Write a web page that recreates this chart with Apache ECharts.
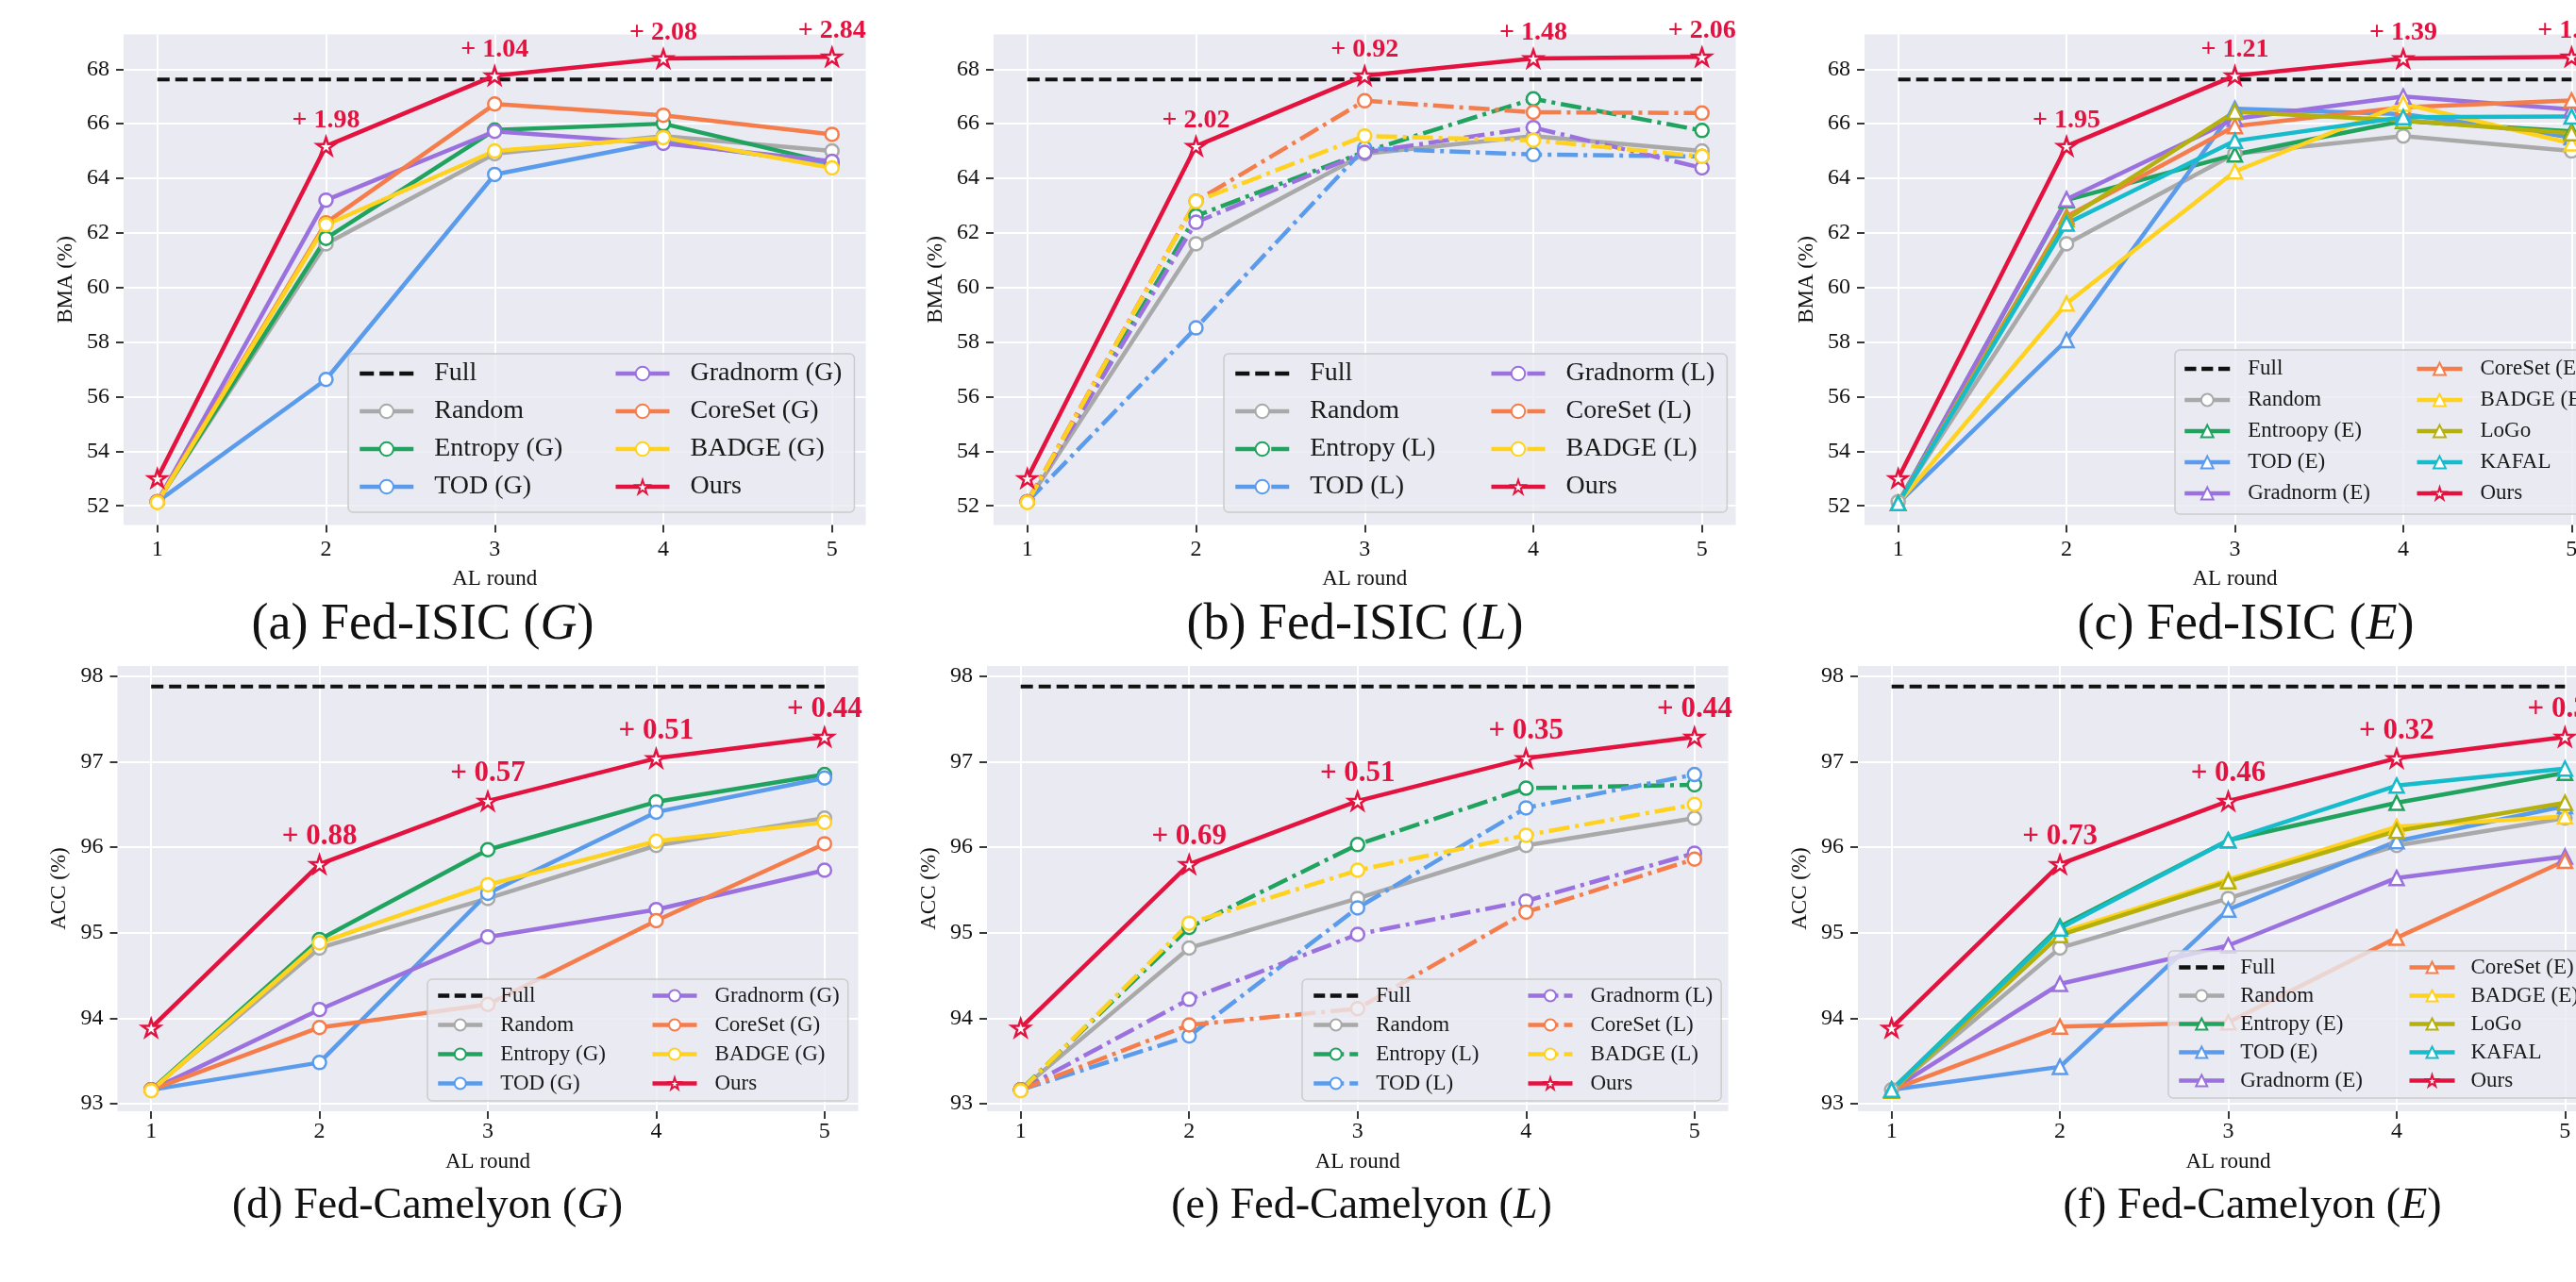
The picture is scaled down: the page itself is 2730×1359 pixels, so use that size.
<!DOCTYPE html>
<html>
<head>
<meta charset="utf-8">
<title>AL round results</title>
<script src="https://cdn.jsdelivr.net/npm/echarts@6.0.0/dist/echarts.min.js"></script>
<style>
html, body { margin: 0; padding: 0; background: #fff; }
#main { width: 2730px; height: 1359px; }
</style>
</head>
<body>
<div id="main"></div>
<script>
var rounds = [1, 2, 3, 4, 5];
var isicTicks = [52, 54, 56, 58, 60, 62, 64, 66, 68];
var camTicks = [93, 94, 95, 96, 97, 98];

var isicFull = [67.62, 67.62, 67.62, 67.62, 67.62];
var camFull = [97.88, 97.88, 97.88, 97.88, 97.88];

// Fed-ISIC, BMA (%)
var isicOurs = [53.01, 65.18, 67.76, 68.39, 68.45];
var isicRandom = [52.15, 61.6, 64.9, 65.55, 65.0];
var isicEntropyG = [52.15, 61.8, 65.77, 66.0, 64.55];
var isicTodG = [52.15, 56.63, 64.14, 65.35, 64.5];
var isicGradnormG = [52.15, 63.2, 65.72, 65.28, 64.62];
var isicCoresetG = [52.15, 62.37, 66.72, 66.31, 65.61];
var isicBadgeG = [52.12, 62.3, 65.0, 65.49, 64.38];
var isicEntropyL = [52.15, 62.62, 64.97, 66.91, 65.75];
var isicTodL = [52.15, 58.52, 65.1, 64.87, 64.8];
var isicGradnormL = [52.15, 62.39, 64.95, 65.86, 64.38];
var isicCoresetL = [52.15, 63.16, 66.84, 66.42, 66.39];
var isicBadgeL = [52.12, 63.15, 65.55, 65.39, 64.8];
var isicEntropyE = [52.1, 63.2, 64.87, 66.1, 65.72];
var isicTodE = [52.1, 58.07, 66.55, 66.35, 65.5];
var isicGradnormE = [52.1, 63.23, 66.18, 67.0, 66.52];
var isicCoresetE = [52.1, 62.6, 65.91, 66.6, 66.85];
var isicBadgeE = [52.1, 59.41, 64.25, 66.73, 65.28];
var isicLogo = [52.1, 62.5, 66.44, 66.12, 65.65];
var isicKafal = [52.1, 62.34, 65.37, 66.24, 66.26];

// Fed-Camelyon, ACC (%)
var camOurs = [93.885, 95.8, 96.54, 97.04, 97.29];
var camRandom = [93.16, 94.82, 95.4, 96.02, 96.34];
var camEntropyG = [93.16, 94.92, 95.97, 96.53, 96.85];
var camTodG = [93.16, 93.48, 95.46, 96.41, 96.81];
var camGradnormG = [93.16, 94.1, 94.95, 95.27, 95.73];
var camCoresetG = [93.16, 93.89, 94.16, 95.14, 96.04];
var camBadgeG = [93.15, 94.88, 95.56, 96.07, 96.29];
var camEntropyL = [93.16, 95.06, 96.03, 96.69, 96.73];
var camTodL = [93.16, 93.79, 95.29, 96.46, 96.85];
var camGradnormL = [93.16, 94.22, 94.98, 95.37, 95.93];
var camCoresetL = [93.16, 93.92, 94.11, 95.24, 95.86];
var camBadgeL = [93.15, 95.11, 95.73, 96.14, 96.5];
var camEntropyE = [93.16, 95.07, 96.08, 96.52, 96.87];
var camTodE = [93.16, 93.43, 95.27, 96.07, 96.48];
var camGradnormE = [93.16, 94.4, 94.85, 95.64, 95.89];
var camCoresetE = [93.16, 93.9, 93.95, 94.94, 95.84];
var camBadgeE = [93.15, 95.0, 95.62, 96.24, 96.36];
var camLogo = [93.15, 94.97, 95.6, 96.19, 96.52];
var camKafal = [93.16, 95.05, 96.08, 96.72, 96.92];

// gain of Ours over the best baseline, written above the stars
var gainA = ['', '+ 1.98', '+ 1.04', '+ 2.08', '+ 2.84'];
var gainB = ['', '+ 2.02', '+ 0.92', '+ 1.48', '+ 2.06'];
var gainC = ['', '+ 1.95', '+ 1.21', '+ 1.39', '+ 1.60'];
var gainD = ['', '+ 0.88', '+ 0.57', '+ 0.51', '+ 0.44'];
var gainE = ['', '+ 0.69', '+ 0.51', '+ 0.35', '+ 0.44'];
var gainF = ['', '+ 0.73', '+ 0.46', '+ 0.32', '+ 0.37'];

var captionNames = ['(a) Fed-ISIC', '(b) Fed-ISIC', '(c) Fed-ISIC', '(d) Fed-Camelyon', '(e) Fed-Camelyon', '(f) Fed-Camelyon'];
var captionLetters = ['G', 'L', 'E', 'G', 'L', 'E'];

var serif = "'Liberation Serif', 'Times New Roman', serif";
var colors = {
    Random: '#A9A9A9', Entropy: '#1FA35F', TOD: '#5B9BEB', Gradnorm: '#9A71DE',
    CoreSet: '#F57D4C', BADGE: '#FFD21F', LoGo: '#B5B00B', KAFAL: '#16BCCB', Ours: '#E3123F'
};
var STAR = 'path://M50,0L61.23,34.55L97.55,34.55L68.17,55.9L79.39,90.45L50,69.1L20.61,90.45L31.83,55.9L2.45,34.55L38.77,34.55Z';
var DASH_BIG = 'path://M0,0h15v4.5h-15zM21,0h15v4.5h-15zM42,0h15v4.5h-15z';
var DASH_SMALL = 'path://M0,0h12v4.5h-12zM17.5,0h12v4.5h-12zM35,0h12v4.5h-12z';
var DASHDOT = [22, 6, 4, 6];
var LW = 4.5;

var panels = [
    {
        grid: {left: 131, top: 36.5, width: 786.5, height: 520}, yMin: 51.3, yMax: 69.27,
        ticks: isicTicks, yName: 'BMA (%)', full: isicFull, ours: isicOurs, gains: gainA, gainSize: 28,
        lines: [
            ['Random', isicRandom, 'Random', 'circle', 'solid'],
            ['Entropy (G)', isicEntropyG, 'Entropy', 'circle', 'solid'],
            ['TOD (G)', isicTodG, 'TOD', 'circle', 'solid'],
            ['Gradnorm (G)', isicGradnormG, 'Gradnorm', 'circle', 'solid'],
            ['CoreSet (G)', isicCoresetG, 'CoreSet', 'circle', 'solid'],
            ['BADGE (G)', isicBadgeG, 'BADGE', 'circle', 'solid']
        ],
        legend: {left: 369, top: 375, padding: [6, 13, 12, 10], font: 28, lh: 30, gap: 10, iw: 57, ih: 18, tpad: 17, colW: 180, rows: 4, icon: DASH_BIG}
    },
    {
        grid: {left: 1053, top: 36.5, width: 786.5, height: 520}, yMin: 51.3, yMax: 69.27,
        ticks: isicTicks, yName: 'BMA (%)', full: isicFull, ours: isicOurs, gains: gainB, gainSize: 28,
        lines: [
            ['Random', isicRandom, 'Random', 'circle', 'solid'],
            ['Entropy (L)', isicEntropyL, 'Entropy', 'circle', DASHDOT],
            ['TOD (L)', isicTodL, 'TOD', 'circle', DASHDOT],
            ['Gradnorm (L)', isicGradnormL, 'Gradnorm', 'circle', DASHDOT],
            ['CoreSet (L)', isicCoresetL, 'CoreSet', 'circle', DASHDOT],
            ['BADGE (L)', isicBadgeL, 'BADGE', 'circle', DASHDOT]
        ],
        legend: {left: 1297, top: 375, padding: [6, 13, 12, 10], font: 28, lh: 30, gap: 10, iw: 57, ih: 18, tpad: 17, colW: 180, rows: 4, icon: DASH_BIG}
    },
    {
        grid: {left: 1976, top: 36.5, width: 785, height: 520}, yMin: 51.3, yMax: 69.27,
        ticks: isicTicks, yName: 'BMA (%)', full: isicFull, ours: isicOurs, gains: gainC, gainSize: 28,
        lines: [
            ['Random', isicRandom, 'Random', 'circle', 'solid'],
            ['Entroopy (E)', isicEntropyE, 'Entropy', 'triangle', 'solid'],
            ['TOD (E)', isicTodE, 'TOD', 'triangle', 'solid'],
            ['Gradnorm (E)', isicGradnormE, 'Gradnorm', 'triangle', 'solid'],
            ['CoreSet (E)', isicCoresetE, 'CoreSet', 'triangle', 'solid'],
            ['BADGE (E)', isicBadgeE, 'BADGE', 'triangle', 'solid'],
            ['LoGo', isicLogo, 'LoGo', 'triangle', 'solid'],
            ['KAFAL', isicKafal, 'KAFAL', 'triangle', 'solid']
        ],
        legend: {left: 2305, top: 371, padding: [7, 8, 9, 8], font: 23, lh: 26, gap: 7, iw: 48, ih: 16, tpad: 14, colW: 170, rows: 5, icon: DASH_SMALL}
    },
    {
        grid: {left: 124.5, top: 706, width: 785, height: 472}, yMin: 92.91, yMax: 98.12,
        ticks: camTicks, yName: 'ACC (%)', full: camFull, ours: camOurs, gains: gainD, gainSize: 31,
        lines: [
            ['Random', camRandom, 'Random', 'circle', 'solid'],
            ['Entropy (G)', camEntropyG, 'Entropy', 'circle', 'solid'],
            ['TOD (G)', camTodG, 'TOD', 'circle', 'solid'],
            ['Gradnorm (G)', camGradnormG, 'Gradnorm', 'circle', 'solid'],
            ['CoreSet (G)', camCoresetG, 'CoreSet', 'circle', 'solid'],
            ['BADGE (G)', camBadgeG, 'BADGE', 'circle', 'solid']
        ],
        legend: {left: 453, top: 1038, padding: [5, 9, 6, 9], font: 23, lh: 25, gap: 6, iw: 47, ih: 15, tpad: 14, colW: 153, rows: 4, icon: DASH_SMALL}
    },
    {
        grid: {left: 1046, top: 706, width: 785.5, height: 472}, yMin: 92.91, yMax: 98.12,
        ticks: camTicks, yName: 'ACC (%)', full: camFull, ours: camOurs, gains: gainE, gainSize: 31,
        lines: [
            ['Random', camRandom, 'Random', 'circle', 'solid'],
            ['Entropy (L)', camEntropyL, 'Entropy', 'circle', DASHDOT],
            ['TOD (L)', camTodL, 'TOD', 'circle', DASHDOT],
            ['Gradnorm (L)', camGradnormL, 'Gradnorm', 'circle', DASHDOT],
            ['CoreSet (L)', camCoresetL, 'CoreSet', 'circle', DASHDOT],
            ['BADGE (L)', camBadgeL, 'BADGE', 'circle', DASHDOT]
        ],
        legend: {left: 1380, top: 1038, padding: [5, 9, 6, 10], font: 23, lh: 25, gap: 6, iw: 47, ih: 15, tpad: 14, colW: 153, rows: 4, icon: DASH_SMALL}
    },
    {
        grid: {left: 1969, top: 706, width: 785, height: 472}, yMin: 92.91, yMax: 98.12,
        ticks: camTicks, yName: 'ACC (%)', full: camFull, ours: camOurs, gains: gainF, gainSize: 31,
        lines: [
            ['Random', camRandom, 'Random', 'circle', 'solid'],
            ['Entropy (E)', camEntropyE, 'Entropy', 'triangle', 'solid'],
            ['TOD (E)', camTodE, 'TOD', 'triangle', 'solid'],
            ['Gradnorm (E)', camGradnormE, 'Gradnorm', 'triangle', 'solid'],
            ['CoreSet (E)', camCoresetE, 'CoreSet', 'triangle', 'solid'],
            ['BADGE (E)', camBadgeE, 'BADGE', 'triangle', 'solid'],
            ['LoGo', camLogo, 'LoGo', 'triangle', 'solid'],
            ['KAFAL', camKafal, 'KAFAL', 'triangle', 'solid']
        ],
        legend: {left: 2298, top: 1008, padding: [5, 9, 6, 9], font: 23, lh: 25, gap: 5, iw: 48, ih: 15, tpad: 12, colW: 172, rows: 5, icon: DASH_SMALL}
    }
];

var captionPos = [[448, 663], [1436, 663], [2380, 663], [453, 1279], [1443, 1279], [2387, 1279]];
var captionSize = [54, 54, 54, 46, 46, 46];

function pairs(values) {
    return rounds.map(function (r, i) { return [r, values[i]]; });
}

function panelSeries(i, p) {
    var list = [];
    list.push({
        name: 'Full', type: 'line', xAxisIndex: i, yAxisIndex: i,
        data: pairs(p.full), symbol: 'none',
        lineStyle: {color: '#111', width: 4, type: [13, 6]},
        itemStyle: {color: '#111'}, z: 2
    });
    p.lines.forEach(function (l) {
        var c = colors[l[2]];
        list.push({
            name: l[0], type: 'line', xAxisIndex: i, yAxisIndex: i,
            data: pairs(l[1]),
            symbol: l[3], symbolSize: l[3] == 'triangle' ? 15 : 14,
            lineStyle: {color: c, width: LW, type: l[4]},
            itemStyle: {color: '#fff', borderColor: c, borderWidth: 2.5}, z: 3
        });
    });
    var gains = p.gains;
    list.push({
        name: 'Ours', type: 'line', xAxisIndex: i, yAxisIndex: i,
        data: pairs(p.ours),
        symbol: STAR, symbolSize: 19, symbolKeepAspect: true,
        lineStyle: {color: colors.Ours, width: LW},
        itemStyle: {color: '#fff', borderColor: colors.Ours, borderWidth: 2.5},
        label: {
            show: true, position: 'top', distance: 3,
            formatter: function (q) { return gains[q.dataIndex]; },
            fontFamily: serif, fontWeight: 'bold', fontSize: p.gainSize, color: colors.Ours
        },
        z: 4
    });
    return list;
}

function panelLegend(p) {
    var L = p.legend;
    var names = ['Full'].concat(p.lines.map(function (l) { return l[0]; }), ['Ours']);
    var data = names.map(function (n, k) {
        var item = {name: n};
        if (n == 'Full') {
            item.icon = L.icon;
        }
        if (k < L.rows) {
            item.textStyle = {width: L.colW};
        }
        return item;
    });
    return {
        left: L.left, top: L.top, orient: 'vertical',
        height: L.rows * L.lh + (L.rows - 1) * L.gap + 2,
        padding: L.padding, itemGap: L.gap, itemWidth: L.iw, itemHeight: L.ih,
        selectedMode: false,
        backgroundColor: 'rgba(234,234,242,0.8)', borderColor: '#CCCCCC', borderWidth: 1.5, borderRadius: 5,
        lineStyle: {width: LW},
        textStyle: {fontFamily: serif, fontSize: L.font, color: '#1a1a1a', lineHeight: L.lh, padding: [0, 0, 0, L.tpad]},
        data: data
    };
}

var grids = [], xAxes = [], yAxes = [], allSeries = [], legends = [], captions = [];
panels.forEach(function (p, i) {
    var top = i < 3;
    grids.push({
        left: p.grid.left, top: p.grid.top, width: p.grid.width, height: p.grid.height,
        show: true, backgroundColor: '#EAEAF2', borderWidth: 0, outerBoundsMode: 'none'
    });
    xAxes.push({
        gridIndex: i, type: 'value', min: 0.8, max: 5.2,
        axisLine: {show: false},
        axisTick: {show: true, length: 8, customValues: rounds, lineStyle: {color: '#222', width: 1.8}},
        axisLabel: {customValues: rounds, margin: top ? 14 : 10, fontFamily: serif, fontSize: 24, color: '#111'},
        splitLine: {show: true, lineStyle: {color: '#fff', width: 2}},
        name: 'AL round', nameLocation: 'middle', nameGap: top ? 46 : 42,
        nameTextStyle: {fontFamily: serif, fontSize: 23, color: '#111'}
    });
    yAxes.push({
        gridIndex: i, type: 'value', min: p.yMin, max: p.yMax,
        axisLine: {show: false},
        axisTick: {show: true, length: 8, customValues: p.ticks, lineStyle: {color: '#222', width: 1.8}},
        axisLabel: {customValues: p.ticks, margin: 15, fontFamily: serif, fontSize: 24, color: '#111'},
        splitLine: {show: true, lineStyle: {color: '#fff', width: 2}},
        name: p.yName, nameLocation: 'middle', nameGap: 50,
        nameTextStyle: {fontFamily: serif, fontSize: 23, color: '#111'}
    });
    allSeries = allSeries.concat(panelSeries(i, p));
    legends.push(panelLegend(p));
    captions.push({
        type: 'text', x: captionPos[i][0], y: captionPos[i][1],
        style: {
            text: captionNames[i] + ' ({i|' + captionLetters[i] + '})',
            fontFamily: serif, fontSize: captionSize[i], fill: '#111', align: 'center', verticalAlign: 'middle',
            rich: {i: {fontFamily: serif, fontSize: captionSize[i], fontStyle: 'italic', fill: '#111'}}
        }
    });
});

var myChart = echarts.init(document.getElementById('main'), null, {renderer: 'canvas'});
myChart.setOption({
    animation: false,
    backgroundColor: '#ffffff',
    grid: grids,
    xAxis: xAxes,
    yAxis: yAxes,
    legend: legends,
    graphic: captions,
    series: allSeries
});
</script>
</body>
</html>
